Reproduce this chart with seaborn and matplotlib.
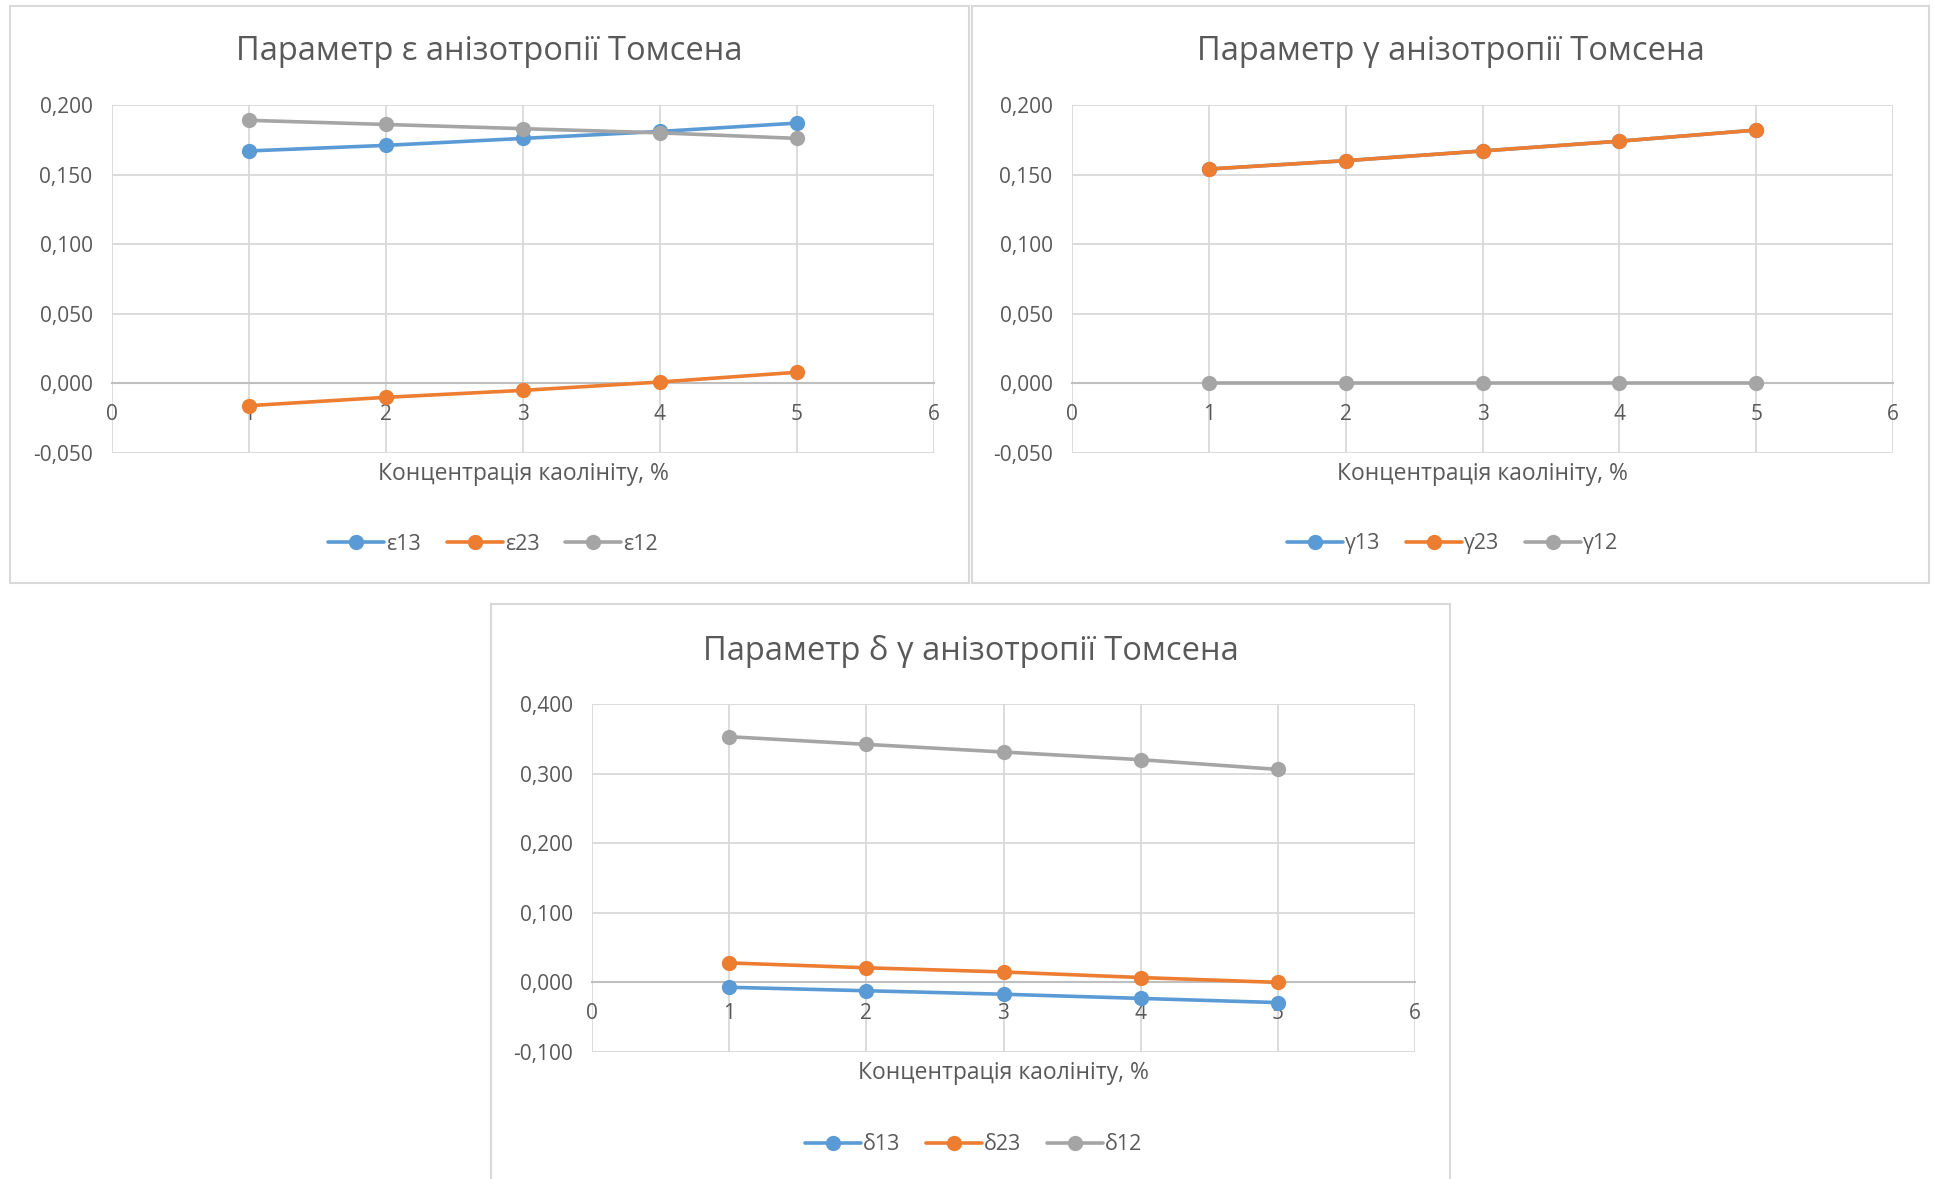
import numpy as np
import pandas as pd
import matplotlib
matplotlib.use('Agg')
import matplotlib.pyplot as plt
import seaborn as sns
from matplotlib.lines import Line2D
from matplotlib.patches import Rectangle
from matplotlib.ticker import FuncFormatter, MultipleLocator

# %% data
conc = [1, 2, 3, 4, 5]

eps_names = ['ε13', 'ε23', 'ε12']
eps13 = [0.167, 0.171, 0.176, 0.181, 0.187]
eps23 = [-0.016, -0.010, -0.005, 0.001, 0.008]
eps12 = [0.189, 0.186, 0.183, 0.180, 0.176]

gam_names = ['γ13', 'γ23', 'γ12']
gam13 = [0.154, 0.160, 0.167, 0.174, 0.182]
gam23 = [0.154, 0.160, 0.167, 0.174, 0.182]
gam12 = [0.000, 0.000, 0.000, 0.000, 0.000]

del_names = ['δ13', 'δ23', 'δ12']
del13 = [-0.007, -0.012, -0.017, -0.023, -0.029]
del23 = [0.028, 0.021, 0.015, 0.007, 0.000]
del12 = [0.353, 0.342, 0.331, 0.320, 0.306]

titles = ['Параметр ε анізотропії Томсена',
          'Параметр γ анізотропії Томсена',
          'Параметр δ γ анізотропії Томсена']
xlabel = 'Концентрація каолініту, %'

colors = ['#5B9BD5', '#ED7D31', '#A5A5A5']
text_col = '#595959'
grid_col = '#D9D9D9'

sns.set_theme(style='white')
plt.rcParams['font.family'] = ['Open Sans', 'DejaVu Sans']

W, H = 1934, 1179
fig = plt.figure(figsize=(W / 100, H / 100), dpi=100)


def fx(px):
    return px / W


def fy(py):
    return 1 - py / H


def panel(names, values, title, ylim, ystep, frame, plot, title_y, xlab_y, leg_y):
    # frame of the chart object
    fx0, fy0, fx1, fy1 = frame
    fig.patches.append(Rectangle((fx(fx0), fy(fy1)), fx(fx1 - fx0), (fy1 - fy0) / H,
                                 transform=fig.transFigure, fill=False,
                                 edgecolor=grid_col, linewidth=1.5, zorder=0))
    px0, py0, px1, py1 = plot
    ax = fig.add_axes([fx(px0), fy(py1), fx(px1 - px0), (py1 - py0) / H])

    df = pd.DataFrame({
        'x': conc * len(names),
        'y': sum(values, []),
        'series': np.repeat(names, len(conc)),
    })
    sns.lineplot(data=df, x='x', y='y', hue='series', hue_order=names,
                 palette=colors, marker='o', markersize=11, markeredgewidth=0,
                 linewidth=2.6, ax=ax, legend=False, zorder=3)

    ax.set_xlim(0, 6)
    ax.set_ylim(*ylim)
    ax.xaxis.set_major_locator(MultipleLocator(1))
    ax.yaxis.set_major_locator(MultipleLocator(ystep))
    ax.yaxis.set_major_formatter(FuncFormatter(lambda v, p: f'{v:.3f}'.replace('.', ',')))
    ax.grid(True, color=grid_col, linewidth=1.3)
    for s in ['top', 'right', 'left']:
        ax.spines[s].set_visible(False)
    ax.spines['bottom'].set_position(('data', 0))
    ax.spines['bottom'].set_color('#BFBFBF')
    ax.spines['bottom'].set_linewidth(1.5)
    ax.tick_params(axis='both', length=0, labelsize=15, labelcolor=text_col)
    ax.tick_params(axis='x', pad=15)
    ax.tick_params(axis='y', pad=14)
    ax.set_xlabel('')
    ax.set_ylabel('')

    cx = (frame[0] + frame[2]) / 2
    fig.text(fx(cx), fy(title_y), title, ha='center', va='center',
             fontsize=23.5, color=text_col)
    fig.text(fx((px0 + px1) / 2), fy(xlab_y), xlabel, ha='center', va='center',
             fontsize=16.5, color=text_col)

    handles = [Line2D([], [], color=c, marker='o', markersize=11, markeredgewidth=0,
                      linewidth=2.6) for c in colors]
    fig.legend(handles, names, loc='center', bbox_to_anchor=(fx((px0 + px1) / 2 - 30), fy(leg_y)),
               ncol=3, frameon=False, fontsize=15.5, labelcolor=text_col,
               handlelength=2.6, handletextpad=0.1, columnspacing=1.2)
    return ax


panel(eps_names, [eps13, eps23, eps12], titles[0], (-0.05, 0.2), 0.05,
      (10, 6, 969, 583), (112, 105, 934, 453), 51, 474, 544)
panel(gam_names, [gam13, gam23, gam12], titles[1], (-0.05, 0.2), 0.05,
      (972, 6, 1929, 583), (1072, 105, 1893, 453), 51, 474, 544)
panel(del_names, [del13, del23, del12], titles[2], (-0.1, 0.4), 0.1,
      (491, 604, 1450, 1185), (592, 704, 1415, 1052), 651, 1073, 1145)

fig.savefig('out.png', dpi=100, facecolor='white')
